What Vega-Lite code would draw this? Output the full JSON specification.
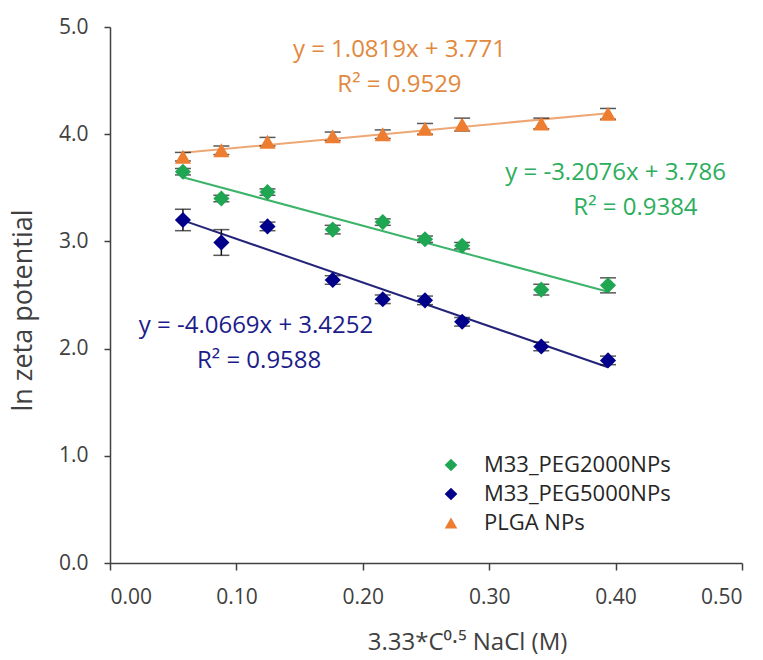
{
  "$schema": "https://vega.github.io/schema/vega-lite/v6.json",
  "width": 632,
  "height": 536,
  "autosize": "none",
  "padding": {"left": 110, "top": 27, "right": 21, "bottom": 97},
  "background": "white",
  "config": {
    "view": {"stroke": null},
    "font": "Open Sans",
    "axis": {"grid": false, "domainColor": "#404040", "tickColor": "#404040", "labelColor": "#404040", "titleColor": "#404040", "labelFont": "Open Sans", "titleFont": "Open Sans", "titleFontWeight": "normal", "labelFontSize": 21, "titleFontSize": 22, "domainWidth": 1.5, "tickWidth": 1.5}
  },
  "datasets": {
    "pts": [
      {"series": "PLGA NPs", "x": 0.0577, "y": 3.79, "err": 0.04},
      {"series": "PLGA NPs", "x": 0.0881, "y": 3.85, "err": 0.04},
      {"series": "PLGA NPs", "x": 0.1246, "y": 3.93, "err": 0.04},
      {"series": "PLGA NPs", "x": 0.1762, "y": 3.98, "err": 0.04},
      {"series": "PLGA NPs", "x": 0.2158, "y": 4.00, "err": 0.04},
      {"series": "PLGA NPs", "x": 0.2492, "y": 4.05, "err": 0.05},
      {"series": "PLGA NPs", "x": 0.2786, "y": 4.09, "err": 0.06},
      {"series": "PLGA NPs", "x": 0.3412, "y": 4.10, "err": 0.05},
      {"series": "PLGA NPs", "x": 0.394, "y": 4.19, "err": 0.05},
      {"series": "M33_PEG2000NPs", "x": 0.0577, "y": 3.65, "err": 0.03},
      {"series": "M33_PEG2000NPs", "x": 0.0881, "y": 3.40, "err": 0.03},
      {"series": "M33_PEG2000NPs", "x": 0.1246, "y": 3.46, "err": 0.03},
      {"series": "M33_PEG2000NPs", "x": 0.1762, "y": 3.11, "err": 0.04},
      {"series": "M33_PEG2000NPs", "x": 0.2158, "y": 3.18, "err": 0.03},
      {"series": "M33_PEG2000NPs", "x": 0.2492, "y": 3.02, "err": 0.03},
      {"series": "M33_PEG2000NPs", "x": 0.2786, "y": 2.96, "err": 0.03},
      {"series": "M33_PEG2000NPs", "x": 0.3412, "y": 2.55, "err": 0.05},
      {"series": "M33_PEG2000NPs", "x": 0.394, "y": 2.59, "err": 0.07},
      {"series": "M33_PEG5000NPs", "x": 0.0577, "y": 3.20, "err": 0.10},
      {"series": "M33_PEG5000NPs", "x": 0.0881, "y": 2.99, "err": 0.12},
      {"series": "M33_PEG5000NPs", "x": 0.1246, "y": 3.14, "err": 0.04},
      {"series": "M33_PEG5000NPs", "x": 0.1762, "y": 2.64, "err": 0.04},
      {"series": "M33_PEG5000NPs", "x": 0.2158, "y": 2.46, "err": 0.04},
      {"series": "M33_PEG5000NPs", "x": 0.2492, "y": 2.45, "err": 0.04},
      {"series": "M33_PEG5000NPs", "x": 0.2786, "y": 2.25, "err": 0.04},
      {"series": "M33_PEG5000NPs", "x": 0.3412, "y": 2.02, "err": 0.04},
      {"series": "M33_PEG5000NPs", "x": 0.394, "y": 1.89, "err": 0.04}
    ],
    "notes": [
      {"series": "PLGA NPs", "x": 0.229, "y": 4.785, "label": "y = 1.0819x + 3.771"},
      {"series": "PLGA NPs", "x": 0.229, "y": 4.46, "label": "R² = 0.9529"},
      {"series": "M33_PEG2000NPs", "x": 0.4, "y": 3.64, "label": "y = -3.2076x + 3.786"},
      {"series": "M33_PEG2000NPs", "x": 0.4157, "y": 3.31, "label": "R² = 0.9384"},
      {"series": "M33_PEG5000NPs", "x": 0.1155, "y": 2.21, "label": "y = -4.0669x + 3.4252"},
      {"series": "M33_PEG5000NPs", "x": 0.118, "y": 1.884, "label": "R² = 0.9588"}
    ]
  },
  "layer": [
    {
      "data": {"name": "pts"},
      "transform": [{"filter": "datum.series === 'PLGA NPs'"}, {"regression": "y", "on": "x", "extent": [0.0577, 0.394]}],
      "mark": {"type": "line", "strokeWidth": 2, "color": "#eea774"},
      "encoding": {
        "x": {"field": "x", "type": "quantitative", "scale": {"domain": [0, 0.5], "nice": false}, "axis": {"values": [0, 0.1, 0.2, 0.3, 0.4, 0.5], "format": ".2f", "tickSize": 7, "labelPadding": 16, "labelFontSize": 21, "title": "3.33*C⁰·⁵ NaCl (M)", "titleFontSize": 24, "titlePadding": 23, "titleX": 357}},
        "y": {"field": "y", "type": "quantitative", "scale": {"domain": [0, 5], "nice": false}, "axis": {"values": [0, 1, 2, 3, 4, 5], "format": ".1f", "tickSize": 6, "labelPadding": 16, "labelFontSize": 21, "title": "ln zeta potential", "titleFontSize": 27, "titlePadding": 21, "titleY": 283}}
      }
    },
    {
      "data": {"name": "pts"},
      "transform": [{"filter": "datum.series === 'M33_PEG2000NPs'"}, {"regression": "y", "on": "x", "extent": [0.0577, 0.394]}],
      "mark": {"type": "line", "strokeWidth": 2, "color": "#3cb46a"},
      "encoding": {
        "x": {"field": "x", "type": "quantitative"},
        "y": {"field": "y", "type": "quantitative"}
      }
    },
    {
      "data": {"name": "pts"},
      "transform": [{"filter": "datum.series === 'M33_PEG5000NPs'"}, {"regression": "y", "on": "x", "extent": [0.0577, 0.394]}],
      "mark": {"type": "line", "strokeWidth": 2, "color": "#23237a"},
      "encoding": {
        "x": {"field": "x", "type": "quantitative"},
        "y": {"field": "y", "type": "quantitative"}
      }
    },
    {
      "data": {"name": "pts"},
      "mark": {"type": "errorbar", "ticks": {"size": 16, "thickness": 1.5}, "thickness": 1.5, "color": "#111111"},
      "encoding": {
        "x": {"field": "x", "type": "quantitative", "title": "3.33*C⁰·⁵ NaCl (M)"},
        "y": {"field": "y", "type": "quantitative", "title": "ln zeta potential"},
        "yError": {"field": "err"},
        "detail": {"field": "series"}
      }
    },
    {
      "data": {"name": "pts"},
      "mark": {"type": "point", "filled": true, "opacity": 1, "size": 260},
      "encoding": {
        "x": {"field": "x", "type": "quantitative"},
        "y": {"field": "y", "type": "quantitative"},
        "color": {"field": "series", "type": "nominal", "scale": {"domain": ["M33_PEG2000NPs", "M33_PEG5000NPs", "PLGA NPs"], "range": ["#1fa653", "#00008b", "#ed7d31"]}, "legend": {"orient": "none", "legendX": 330, "legendY": 427, "title": null, "labelFontSize": 22, "labelFont": "Open Sans", "labelColor": "#262626", "labelLimit": 400, "symbolSize": 160, "rowPadding": 7, "labelOffset": 22}},
        "shape": {"field": "series", "type": "nominal", "scale": {"domain": ["M33_PEG2000NPs", "M33_PEG5000NPs", "PLGA NPs"], "range": ["diamond", "diamond", "triangle-up"]}, "legend": {"orient": "none", "legendX": 330, "legendY": 427, "title": null, "labelFontSize": 22, "labelFont": "Open Sans", "labelColor": "#262626", "labelLimit": 400, "symbolSize": 160, "rowPadding": 7, "labelOffset": 22}}
      }
    },
    {
      "data": {"name": "notes"},
      "transform": [{"filter": "datum.series === 'PLGA NPs'"}],
      "mark": {"type": "text", "fontSize": 24, "align": "center", "baseline": "middle", "font": "Open Sans", "color": "#e2893e"},
      "encoding": {
        "x": {"field": "x", "type": "quantitative"},
        "y": {"field": "y", "type": "quantitative"},
        "text": {"field": "label"}
      }
    },
    {
      "data": {"name": "notes"},
      "transform": [{"filter": "datum.series === 'M33_PEG2000NPs'"}],
      "mark": {"type": "text", "fontSize": 24, "align": "center", "baseline": "middle", "font": "Open Sans", "color": "#2cae5c"},
      "encoding": {
        "x": {"field": "x", "type": "quantitative"},
        "y": {"field": "y", "type": "quantitative"},
        "text": {"field": "label"}
      }
    },
    {
      "data": {"name": "notes"},
      "transform": [{"filter": "datum.series === 'M33_PEG5000NPs'"}],
      "mark": {"type": "text", "fontSize": 24, "align": "center", "baseline": "middle", "font": "Open Sans", "color": "#1c1c8a"},
      "encoding": {
        "x": {"field": "x", "type": "quantitative"},
        "y": {"field": "y", "type": "quantitative"},
        "text": {"field": "label"}
      }
    }
  ]
}
